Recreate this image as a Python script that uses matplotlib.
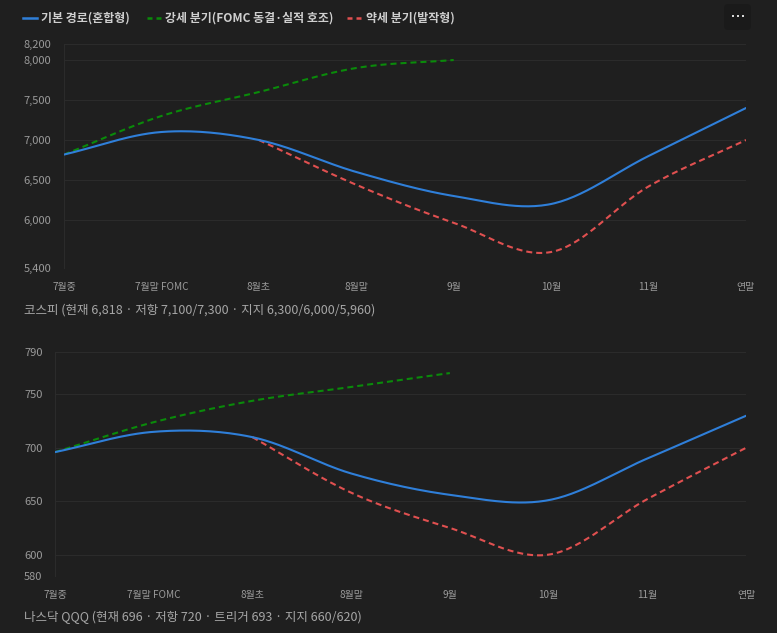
import numpy as np
import matplotlib
matplotlib.use("Agg")
import matplotlib.pyplot as plt
from matplotlib.lines import Line2D
from matplotlib.patches import FancyBboxPatch

plt.rcParams['font.family'] = ['Noto Sans CJK KR', 'DejaVu Sans']

# ---------------- data ----------------
categories = ["7월중", "7월말 FOMC", "8월초", "8월말", "9월", "10월", "11월", "연말"]

kospi_base = [6818, 7100, 7000, 6600, 6300, 6200, 6800, 7400]
kospi_bull = [6818, 7300, 7600, 7900, 8000]          # 7월중 .. 9월
kospi_bear = [7000, 6440, 5965, 5600, 6420, 7000]    # 8월초 .. 연말

qqq_base = [696, 715, 710, 676, 656, 651, 690, 730]
qqq_bull = [696, 724, 744, 757, 770]                 # 7월중 .. 9월
qqq_bear = [710, 658, 625, 600, 652, 700]            # 8월초 .. 연말

kospi_ticks = [5400, 6000, 6500, 7000, 7500, 8000, 8200]
qqq_ticks = [580, 600, 650, 700, 750, 790]

legend_labels = ["기본 경로(혼합형)", "강세 분기(FOMC 동결·실적 호조)", "약세 분기(발작형)"]
kospi_title = "코스피 (현재 6,818 · 저항 7,100/7,300 · 지지 6,300/6,000/5,960)"
qqq_title = "나스닥 QQQ (현재 696 · 저항 720 · 트리거 693 · 지지 660/620)"

# ---------------- style ----------------
BG = "#1f1f1f"
GRID = "#2b2b2b"
TICK = "#9a9a9a"
BLUE = "#2f7fd9"
GREEN = "#0a8a0a"
RED = "#e05050"
LW = 1.5
DASH = (0, (2.9, 1.9))


def smooth(xs, ys, n=30):
    """Catmull-Rom style smooth curve through the given points (rendering only)."""
    xs = np.asarray(xs, float)
    ys = np.asarray(ys, float)
    m = np.zeros_like(ys)
    if len(ys) > 2:
        m[1:-1] = (ys[2:] - ys[:-2]) / (xs[2:] - xs[:-2])
    m[0] = (ys[1] - ys[0]) / (xs[1] - xs[0])
    m[-1] = (ys[-1] - ys[-2]) / (xs[-1] - xs[-2])
    ox, oy = [], []
    for i in range(len(xs) - 1):
        h = xs[i + 1] - xs[i]
        t = np.linspace(0, 1, n, endpoint=(i == len(xs) - 2))
        h00 = 2 * t**3 - 3 * t**2 + 1
        h10 = t**3 - 2 * t**2 + t
        h01 = -2 * t**3 + 3 * t**2
        h11 = t**3 - t**2
        ox.append(xs[i] + t * h)
        oy.append(h00 * ys[i] + h10 * h * m[i] + h01 * ys[i + 1] + h11 * h * m[i + 1])
    return np.concatenate(ox), np.concatenate(oy)


W, H = 777, 633
fig = plt.figure(figsize=(W / 100, H / 100), dpi=100, facecolor=BG)


def px_axes(left, top, right, bottom):
    return fig.add_axes([left / W, 1 - bottom / H, (right - left) / W, (bottom - top) / H])


def draw(ax, base, bull, bear, ticks, ylim, fmt):
    ax.set_facecolor(BG)
    n = len(categories)
    x = np.arange(n)
    bx, by = smooth(x, base)
    ax.plot(bx, by, color=BLUE, lw=LW, solid_capstyle="round", zorder=3)
    gx, gy = smooth(x[:len(bull)], bull)
    ax.plot(gx, gy, color=GREEN, lw=LW, linestyle=DASH, zorder=2)
    rx, ry = smooth(x[n - len(bear):], bear)
    ax.plot(rx, ry, color=RED, lw=LW, linestyle=DASH, zorder=2)
    ax.set_xlim(0, n - 1)
    ax.set_ylim(*ylim)
    ax.set_yticks(ticks)
    ax.set_yticklabels([fmt(t) for t in ticks])
    ax.set_xticks(x)
    ax.set_xticklabels(categories)
    ax.grid(axis="y", color=GRID, lw=0.8)
    for s in ["top", "right", "bottom"]:
        ax.spines[s].set_visible(False)
    ax.spines["left"].set_color(GRID)
    ax.spines["left"].set_linewidth(0.8)
    ax.tick_params(axis="y", length=0, pad=9, labelsize=8.0, colors=TICK)
    ax.tick_params(axis="x", length=0, pad=10, labelsize=7.2, colors=TICK)


ax1 = px_axes(64, 44, 746, 268)
draw(ax1, kospi_base, kospi_bull, kospi_bear, kospi_ticks, (5400, 8200), lambda v: f"{v:,}")
ax2 = px_axes(55, 351.7, 746, 576)
draw(ax2, qqq_base, qqq_bull, qqq_bear, qqq_ticks, (580, 790), lambda v: f"{v}")

# titles
fig.text(24 / W, 1 - 310 / H, kospi_title, color="#a6a6a6", fontsize=9.0, va="center", ha="left")
fig.text(24 / W, 1 - 617 / H, qqq_title, color="#a6a6a6", fontsize=9.0, va="center", ha="left")

# legend (manual)
ly = 1 - 18 / H
LEG_DASH = (0, (2.0, 1.6))
items = [(23, 41, BLUE, "-"), (147, 165, GREEN, LEG_DASH), (347, 366, RED, LEG_DASH)]
for (lx, tx, col, ls), lab in zip(items, legend_labels):
    fig.add_artist(Line2D([lx / W, (lx + 14) / W], [ly, ly], color=col, lw=1.8, linestyle=ls))
    fig.text(tx / W, ly, lab, color="#cfcfcf", fontsize=8.6, fontweight="bold", va="center", ha="left")

# "..." button
btn = FancyBboxPatch((724 / W, 1 - 30 / H), 27 / W, 26 / H,
                     boxstyle="round,pad=0,rounding_size=0.006",
                     transform=fig.transFigure, facecolor="#1a1a1a", edgecolor="none")
fig.add_artist(btn)
for dx in (-5, 0, 5):
    fig.add_artist(Line2D([(737.5 + dx) / W], [1 - 16 / H], marker="s", markersize=1.5,
                          markeredgewidth=0, color="#d8d8d8", linestyle="none"))

fig.savefig("out.png", dpi=100, facecolor=BG)
